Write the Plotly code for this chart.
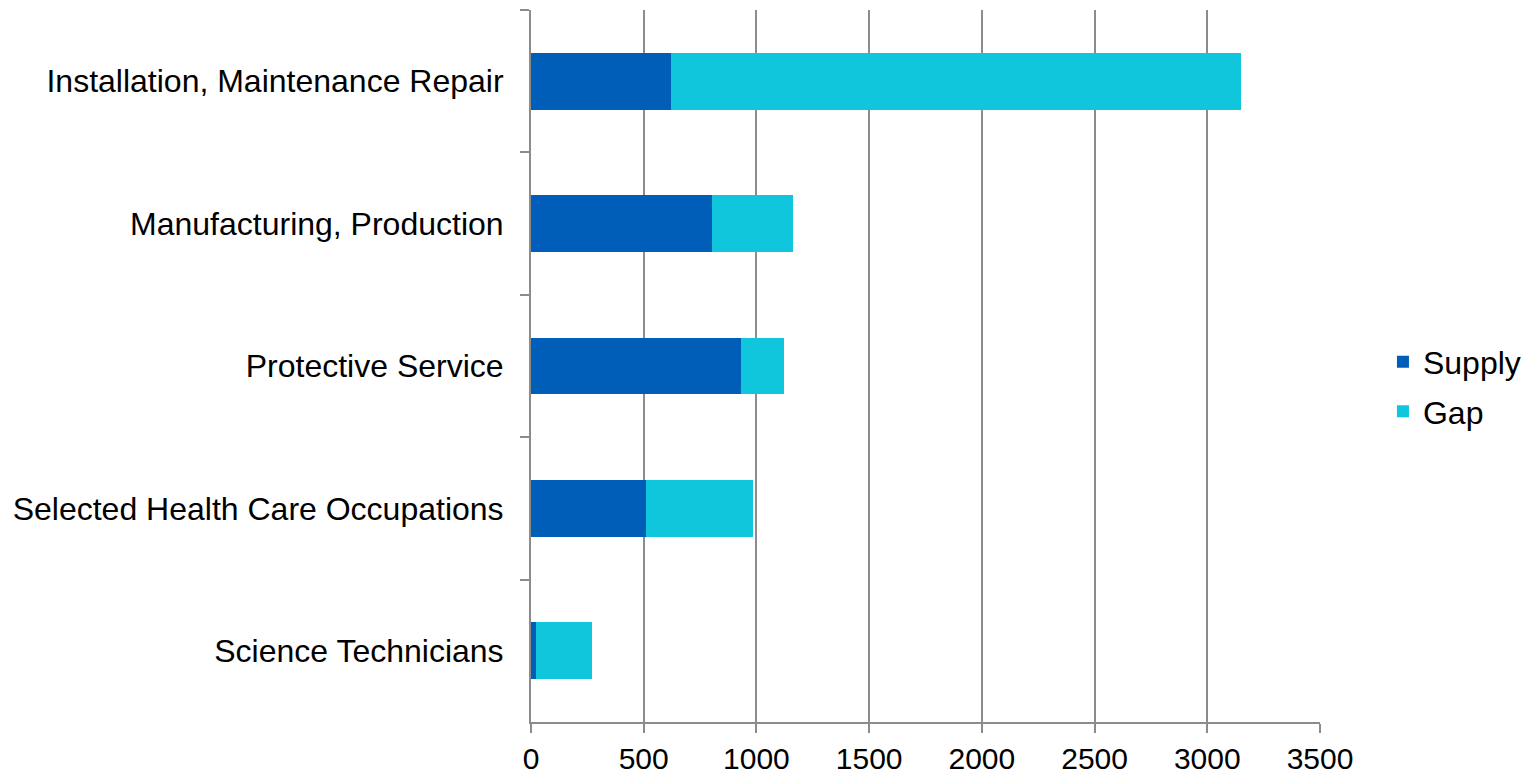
import plotly.graph_objects as go

categories = ["Installation, Maintenance Repair", "Manufacturing, Production",
              "Protective Service", "Selected Health Care Occupations",
              "Science Technicians"]
supply = [621, 804, 933, 511, 22]
gap = [2527, 358, 188, 474, 250]
x_ticks = [0, 500, 1000, 1500, 2000, 2500, 3000, 3500]

FONT = "Liberation Sans, Arial, sans-serif"
GRID = "#8c8c8c"

fig = go.Figure()
fig.add_trace(go.Bar(y=categories, x=supply, name="Supply", orientation="h",
                     legendgroup="s",
                     marker=dict(color="#005EB8", line=dict(width=0))))
fig.add_trace(go.Bar(y=categories, x=gap, name="Gap", orientation="h",
                     legendgroup="g",
                     marker=dict(color="#0FC6DC", line=dict(width=0))))

fig.update_layout(
    barmode="stack",
    bargap=0.6,
    width=1531, height=776,
    margin=dict(l=531, r=211, t=10, b=54, pad=0, autoexpand=False),
    paper_bgcolor="white", plot_bgcolor="white",
    font=dict(family=FONT, size=32, color="black"),
    legend=dict(xref="container", yref="container",
                x=0.9033, xanchor="left", y=0.5015, yanchor="middle",
                traceorder="grouped", tracegroupgap=5, font=dict(size=32),
                bgcolor="rgba(0,0,0,0)"),
    xaxis=dict(range=[0, 3500], tickvals=x_ticks, ticktext=[str(v) for v in x_ticks],
               showgrid=True, gridcolor=GRID, gridwidth=2,
               showline=True, linecolor=GRID, linewidth=2,
               ticks="outside", ticklen=9, tickcolor=GRID, tickwidth=2,
               zeroline=False, tickfont=dict(size=30), automargin=False,
               ticklabelstandoff=0),
    yaxis=dict(categoryorder="array", categoryarray=categories, autorange="reversed",
               showgrid=False, showline=True, linecolor=GRID, linewidth=2,
               ticks="outside", ticklen=9, tickcolor=GRID, tickwidth=2,
               tickson="boundaries", tickfont=dict(size=32), automargin=False,
               ticklabelstandoff=19),
)

fig.write_html("out.html")
